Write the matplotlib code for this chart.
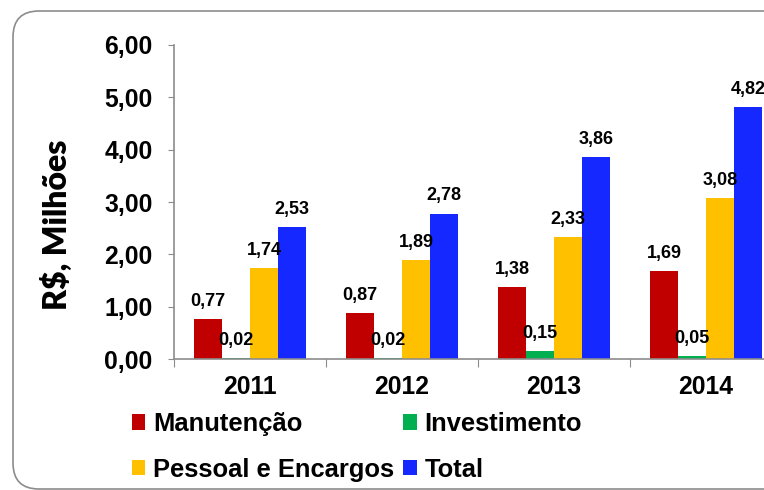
import matplotlib.pyplot as plt
from matplotlib.patches import FancyBboxPatch
from matplotlib.transforms import IdentityTransform
import numpy as np

plt.rcParams["font.family"] = ["Liberation Sans", "DejaVu Sans"]
plt.rcParams["font.weight"] = "bold"

years = ["2011", "2012", "2013", "2014"]
series_names = ["Manutenção", "Investimento", "Pessoal e Encargos", "Total"]
manutencao = [0.77, 0.87, 1.38, 1.69]
investimento = [0.02, 0.02, 0.15, 0.05]
pessoal = [1.74, 1.89, 2.33, 3.08]
total = [2.53, 2.78, 3.86, 4.82]
y_ticks = [0, 1, 2, 3, 4, 5, 6]

series = [manutencao, investimento, pessoal, total]
colors = ["#C00000", "#00B050", "#FFC000", "#1428FF"]


def fmt(v):
    return f"{v:.2f}".replace(".", ",")


fig = plt.figure(figsize=(7.64, 4.90), dpi=100)

# rounded border of the chart area (pixel units)
box = FancyBboxPatch((13, 1), 800, 478,
                     boxstyle="round,pad=0,rounding_size=26",
                     transform=IdentityTransform(), facecolor="none",
                     edgecolor="#8c8c8c", linewidth=1.2, clip_on=False)
fig.patches.append(box)

ax = fig.add_axes([174 / 764, 1 - 359 / 490, 608 / 764, 314 / 490])

x = np.arange(len(years))
width = 0.184
handles = []
for i, (vals, col, name) in enumerate(zip(series, colors, series_names)):
    pos = x + (i - 1.5) * width
    bars = ax.bar(pos, vals, width, color=col, label=name, zorder=2)
    handles.append(bars)
    for p, v in zip(pos, vals):
        ax.annotate(fmt(v), (p, v), xytext=(0, 9.4), textcoords="offset points",
                    ha="center", va="baseline", fontsize=13, fontweight="bold")

ax.set_xlim(-0.5, 3.5)
ax.set_ylim(0, 6)
ax.set_yticks(y_ticks)
ax.set_yticklabels([fmt(t) for t in y_ticks], fontsize=17.8, fontweight="bold")
ax.set_xticks(np.arange(-0.5, 4.0, 1.0))
ax.set_xticklabels([])
ax.set_xticks(x, minor=True)
ax.set_xticklabels(years, minor=True, fontsize=17.8, fontweight="bold")
ax.tick_params(axis="x", which="major", length=6, color="#8c8c8c", direction="out")
ax.tick_params(axis="x", which="minor", length=0, pad=11.5)
ax.tick_params(axis="y", length=4, color="#8c8c8c", pad=11.5)

for s in ["top", "right"]:
    ax.spines[s].set_visible(False)
for s in ["left", "bottom"]:
    ax.spines[s].set_color("#8c8c8c")
    ax.spines[s].set_linewidth(1.2)

fig.text(56 / 764, 1 - 225 / 490, "R$, Milhões", rotation=90, ha="center",
         va="center", fontsize=23, fontweight="heavy", family=["Lato", "DejaVu Sans"])

order = [0, 2, 1, 3]
leg = fig.legend([handles[i] for i in order], [series_names[i] for i in order],
                 ncol=2, loc="upper left", bbox_to_anchor=(132 / 764, 1 - 412 / 490),
                 frameon=False, fontsize=18.4, handlelength=0.52, handleheight=0.55,
                 handletextpad=0.31, columnspacing=0.35, labelspacing=0.85,
                 borderpad=0, borderaxespad=0)
for t in leg.get_texts():
    t.set_fontweight("bold")

fig.savefig("out.png", dpi=100)
